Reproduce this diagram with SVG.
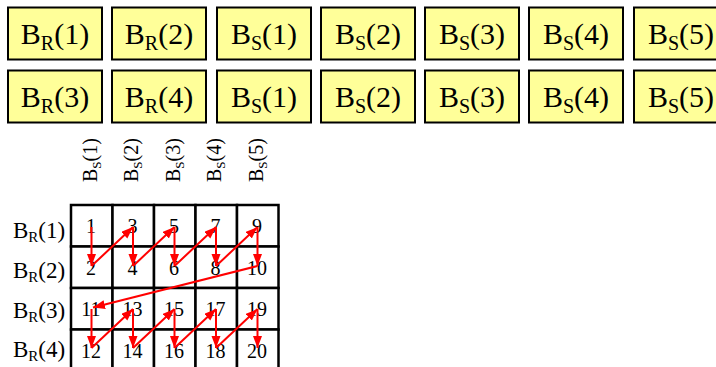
<svg xmlns="http://www.w3.org/2000/svg" width="716" height="367" viewBox="0 0 716 367">
<style>
  text { font-family: "Liberation Serif", "Times New Roman", serif; fill: #000; }
  .box { fill: #FFFF99; stroke: #000; stroke-width: 2; }
  .bt { font-size: 30px; text-anchor: middle; }
  .bs { font-size: 20px; }
  .cell { fill: #fff; stroke: #000; stroke-width: 2.5; }
  .num { font-size: 20px; text-anchor: middle; }
  .lbl { font-size: 23px; }
  .lsub { font-size: 15px; }
  .hdr { font-size: 20px; }
  .hsub { font-size: 13px; }
  .arr { stroke: #FF0000; stroke-width: 2; fill: none; marker-end: url(#ah); }
</style>
<defs>
  <marker id="ah" markerUnits="userSpaceOnUse" markerWidth="13" markerHeight="10" refX="12" refY="4.5" orient="auto">
    <path d="M0,0 L12,4.5 L0,9 z" fill="#FF0000"/>
  </marker>
</defs>
<rect width="716" height="367" fill="#fff"/>

<!-- Top row 1 -->
<g id="r1-br1"><rect class="box" x="8" y="7.5" width="94" height="52"/><text class="bt" x="55" y="43.5">B<tspan class="bs" dy="6">R</tspan><tspan dy="-6">(1)</tspan></text></g>
<g id="r1-br2"><rect class="box" x="112" y="7.5" width="94" height="52"/><text class="bt" x="159" y="43.5">B<tspan class="bs" dy="6">R</tspan><tspan dy="-6">(2)</tspan></text></g>
<g id="r1-bs1"><rect class="box" x="217" y="7.5" width="94" height="52"/><text class="bt" x="264" y="43.5">B<tspan class="bs" dy="6">S</tspan><tspan dy="-6">(1)</tspan></text></g>
<g id="r1-bs2"><rect class="box" x="321" y="7.5" width="94" height="52"/><text class="bt" x="368" y="43.5">B<tspan class="bs" dy="6">S</tspan><tspan dy="-6">(2)</tspan></text></g>
<g id="r1-bs3"><rect class="box" x="425" y="7.5" width="94" height="52"/><text class="bt" x="472" y="43.5">B<tspan class="bs" dy="6">S</tspan><tspan dy="-6">(3)</tspan></text></g>
<g id="r1-bs4"><rect class="box" x="529" y="7.5" width="94" height="52"/><text class="bt" x="576" y="43.5">B<tspan class="bs" dy="6">S</tspan><tspan dy="-6">(4)</tspan></text></g>
<g id="r1-bs5"><rect class="box" x="634" y="7.5" width="94" height="52"/><text class="bt" x="681" y="43.5">B<tspan class="bs" dy="6">S</tspan><tspan dy="-6">(5)</tspan></text></g>

<!-- Top row 2 -->
<g id="r2-br3"><rect class="box" x="8" y="70.5" width="94" height="52"/><text class="bt" x="55" y="106.5">B<tspan class="bs" dy="6">R</tspan><tspan dy="-6">(3)</tspan></text></g>
<g id="r2-br4"><rect class="box" x="112" y="70.5" width="94" height="52"/><text class="bt" x="159" y="106.5">B<tspan class="bs" dy="6">R</tspan><tspan dy="-6">(4)</tspan></text></g>
<g id="r2-bs1"><rect class="box" x="217" y="70.5" width="94" height="52"/><text class="bt" x="264" y="106.5">B<tspan class="bs" dy="6">S</tspan><tspan dy="-6">(1)</tspan></text></g>
<g id="r2-bs2"><rect class="box" x="321" y="70.5" width="94" height="52"/><text class="bt" x="368" y="106.5">B<tspan class="bs" dy="6">S</tspan><tspan dy="-6">(2)</tspan></text></g>
<g id="r2-bs3"><rect class="box" x="425" y="70.5" width="94" height="52"/><text class="bt" x="472" y="106.5">B<tspan class="bs" dy="6">S</tspan><tspan dy="-6">(3)</tspan></text></g>
<g id="r2-bs4"><rect class="box" x="529" y="70.5" width="94" height="52"/><text class="bt" x="576" y="106.5">B<tspan class="bs" dy="6">S</tspan><tspan dy="-6">(4)</tspan></text></g>
<g id="r2-bs5"><rect class="box" x="634" y="70.5" width="94" height="52"/><text class="bt" x="681" y="106.5">B<tspan class="bs" dy="6">S</tspan><tspan dy="-6">(5)</tspan></text></g>

<!-- Column headers -->
<g id="col1"><text class="hdr" transform="translate(96.5,182) rotate(-90)">B<tspan class="hsub" dy="4">S</tspan><tspan dy="-4">(1)</tspan></text></g>
<g id="col2"><text class="hdr" transform="translate(138,182) rotate(-90)">B<tspan class="hsub" dy="4">S</tspan><tspan dy="-4">(2)</tspan></text></g>
<g id="col3"><text class="hdr" transform="translate(179.5,182) rotate(-90)">B<tspan class="hsub" dy="4">S</tspan><tspan dy="-4">(3)</tspan></text></g>
<g id="col4"><text class="hdr" transform="translate(221,182) rotate(-90)">B<tspan class="hsub" dy="4">S</tspan><tspan dy="-4">(4)</tspan></text></g>
<g id="col5"><text class="hdr" transform="translate(262.5,182) rotate(-90)">B<tspan class="hsub" dy="4">S</tspan><tspan dy="-4">(5)</tspan></text></g>

<!-- Row labels -->
<g id="row1"><text class="lbl" x="13" y="238">B<tspan class="lsub" dy="4">R</tspan><tspan dy="-4">(1)</tspan></text></g>
<g id="row2"><text class="lbl" x="13" y="278">B<tspan class="lsub" dy="4">R</tspan><tspan dy="-4">(2)</tspan></text></g>
<g id="row3"><text class="lbl" x="13" y="318">B<tspan class="lsub" dy="4">R</tspan><tspan dy="-4">(3)</tspan></text></g>
<g id="row4"><text class="lbl" x="13" y="357">B<tspan class="lsub" dy="4">R</tspan><tspan dy="-4">(4)</tspan></text></g>

<!-- Grid cells -->
<g id="c1"><rect class="cell" x="71" y="205" width="41.5" height="41.5"/><text class="num" x="91" y="233">1</text></g>
<g id="c3"><rect class="cell" x="112.5" y="205" width="41.5" height="41.5"/><text class="num" x="132.5" y="233">3</text></g>
<g id="c5"><rect class="cell" x="154" y="205" width="41.5" height="41.5"/><text class="num" x="174" y="233">5</text></g>
<g id="c7"><rect class="cell" x="195.5" y="205" width="41.5" height="41.5"/><text class="num" x="215.5" y="233">7</text></g>
<g id="c9"><rect class="cell" x="237" y="205" width="41.5" height="41.5"/><text class="num" x="257" y="233">9</text></g>

<g id="c2"><rect class="cell" x="71" y="246.5" width="41.5" height="41.5"/><text class="num" x="91" y="274.5">2</text></g>
<g id="c4"><rect class="cell" x="112.5" y="246.5" width="41.5" height="41.5"/><text class="num" x="132.5" y="274.5">4</text></g>
<g id="c6"><rect class="cell" x="154" y="246.5" width="41.5" height="41.5"/><text class="num" x="174" y="274.5">6</text></g>
<g id="c8"><rect class="cell" x="195.5" y="246.5" width="41.5" height="41.5"/><text class="num" x="215.5" y="274.5">8</text></g>
<g id="c10"><rect class="cell" x="237" y="246.5" width="41.5" height="41.5"/><text class="num" x="257" y="274.5">10</text></g>

<g id="c11"><rect class="cell" x="71" y="288" width="41.5" height="41.5"/><text class="num" x="91" y="316">11</text></g>
<g id="c13"><rect class="cell" x="112.5" y="288" width="41.5" height="41.5"/><text class="num" x="132.5" y="316">13</text></g>
<g id="c15"><rect class="cell" x="154" y="288" width="41.5" height="41.5"/><text class="num" x="174" y="316">15</text></g>
<g id="c17"><rect class="cell" x="195.5" y="288" width="41.5" height="41.5"/><text class="num" x="215.5" y="316">17</text></g>
<g id="c19"><rect class="cell" x="237" y="288" width="41.5" height="41.5"/><text class="num" x="257" y="316">19</text></g>

<g id="c12"><rect class="cell" x="71" y="329.5" width="41.5" height="41.5"/><text class="num" x="91" y="357.5">12</text></g>
<g id="c14"><rect class="cell" x="112.5" y="329.5" width="41.5" height="41.5"/><text class="num" x="132.5" y="357.5">14</text></g>
<g id="c16"><rect class="cell" x="154" y="329.5" width="41.5" height="41.5"/><text class="num" x="174" y="357.5">16</text></g>
<g id="c18"><rect class="cell" x="195.5" y="329.5" width="41.5" height="41.5"/><text class="num" x="215.5" y="357.5">18</text></g>
<g id="c20"><rect class="cell" x="237" y="329.5" width="41.5" height="41.5"/><text class="num" x="257" y="357.5">20</text></g>

<!-- Connectors -->
<g id="connectors">
  <line class="arr" x1="91.5" y1="227" x2="91.5" y2="266"/>
  <line class="arr" x1="91.5" y1="266" x2="133" y2="227"/>
  <line class="arr" x1="133" y1="227" x2="133" y2="266"/>
  <line class="arr" x1="133" y1="266" x2="174.5" y2="227"/>
  <line class="arr" x1="174.5" y1="227" x2="174.5" y2="266"/>
  <line class="arr" x1="174.5" y1="266" x2="216" y2="227"/>
  <line class="arr" x1="216" y1="227" x2="216" y2="266"/>
  <line class="arr" x1="216" y1="266" x2="257.5" y2="227"/>
  <line class="arr" x1="257.5" y1="227" x2="257.5" y2="266"/>
  <line class="arr" x1="257.5" y1="266" x2="93" y2="307.5"/>
  <line class="arr" x1="91.5" y1="309" x2="91.5" y2="348"/>
  <line class="arr" x1="91.5" y1="348" x2="133" y2="309"/>
  <line class="arr" x1="133" y1="309" x2="133" y2="348"/>
  <line class="arr" x1="133" y1="348" x2="174.5" y2="309"/>
  <line class="arr" x1="174.5" y1="309" x2="174.5" y2="348"/>
  <line class="arr" x1="174.5" y1="348" x2="216" y2="309"/>
  <line class="arr" x1="216" y1="309" x2="216" y2="348"/>
  <line class="arr" x1="216" y1="348" x2="257.5" y2="309"/>
  <line class="arr" x1="257.5" y1="309" x2="257.5" y2="348"/>
</g>
</svg>
